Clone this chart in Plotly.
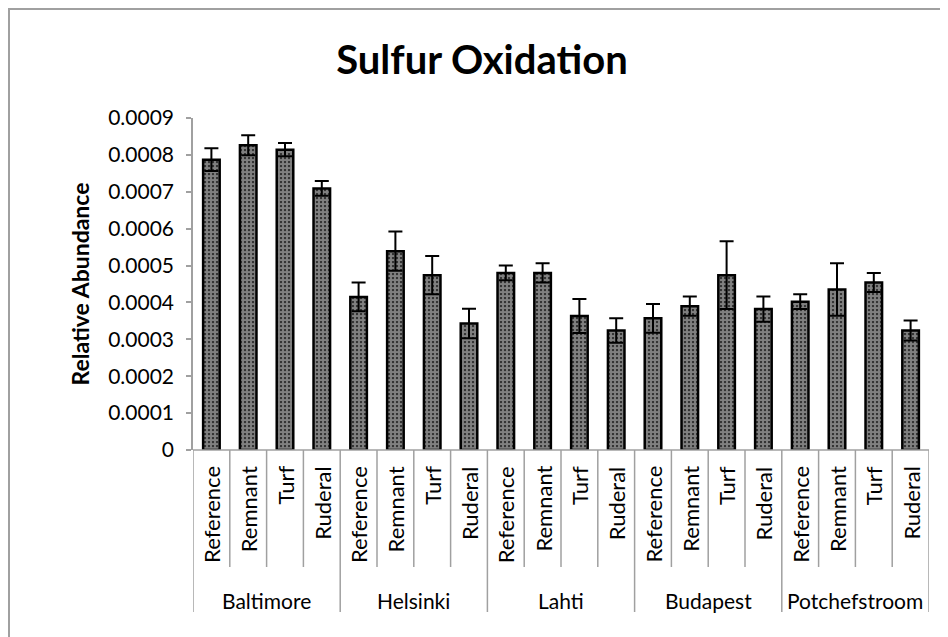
import plotly.graph_objects as go

cities = ["Baltimore", "Helsinki", "Lahti", "Budapest", "Potchefstroom"]
treatments = ["Reference", "Remnant", "Turf", "Ruderal"]

values = {
    "Baltimore": [0.000787, 0.000826, 0.000814, 0.000709],
    "Helsinki": [0.000415, 0.000539, 0.000474, 0.000343],
    "Lahti": [0.000480, 0.000480, 0.000363, 0.000324],
    "Budapest": [0.000357, 0.000390, 0.000474, 0.000382],
    "Potchefstroom": [0.000402, 0.000435, 0.000454, 0.000324],
}
errors = {
    "Baltimore": [0.000031, 0.000027, 0.000018, 0.000020],
    "Helsinki": [0.000039, 0.000053, 0.000052, 0.000040],
    "Lahti": [0.000020, 0.000026, 0.000046, 0.000033],
    "Budapest": [0.000039, 0.000026, 0.000092, 0.000034],
    "Potchefstroom": [0.000020, 0.000071, 0.000026, 0.000027],
}
y_tickvals = [0, 0.0001, 0.0002, 0.0003, 0.0004, 0.0005, 0.0006, 0.0007, 0.0008, 0.0009]
y_ticktext = ["0", "0.0001", "0.0002", "0.0003", "0.0004", "0.0005", "0.0006", "0.0007", "0.0008", "0.0009"]

FONT = "Lato"
GRAY = "#a0a0a0"
W, H = 940, 629
ML, MR, MT, MB = 185, 19, 110, 187
PW, PH = W - ML - MR, H - MT - MB

keys, ys, es = [], [], []
for c in cities:
    for t, v, e in zip(treatments, values[c], errors[c]):
        keys.append(f"{c}|{t}")
        ys.append(v)
        es.append(e)

fig = go.Figure(go.Bar(
    x=keys, y=ys, width=0.45,
    marker=dict(color="black", line=dict(color="black", width=2.5),
                pattern=dict(shape=".", fgcolor="white", bgcolor="black", size=4, solidity=0.8)),
    error_y=dict(type="data", array=es, symmetric=True, color="black", thickness=2, width=7),
))

def py(px):  # pixels below axis -> paper y
    return -px / PH

def pxx(px):  # figure x pixel -> paper x
    return (px - ML) / PW

def pyy(px):  # figure y pixel (from top) -> paper y
    return (H - MB - px) / PH

shapes = []
n = len(keys)
for i in range(n + 1):
    grp = (i % len(treatments) == 0)
    shapes.append(dict(type="line", xref="x", yref="paper", x0=i - 0.5, x1=i - 0.5,
                       y0=0, y1=py(162 if grp else 117), line=dict(color=GRAY, width=1.5)))
shapes.append(dict(type="line", xref="paper", yref="paper", x0=0, x1=1, y0=0, y1=0,
                   line=dict(color=GRAY, width=1.5)))
# outer chart border
shapes.append(dict(type="line", xref="paper", yref="paper", x0=pxx(1), x1=pxx(1),
                   y0=pyy(0), y1=pyy(H + 10), line=dict(color=GRAY, width=2)))
shapes.append(dict(type="line", xref="paper", yref="paper", x0=pxx(0), x1=pxx(W + 10),
                   y0=pyy(1), y1=pyy(1), line=dict(color=GRAY, width=2)))

annotations = []
for c_t in keys:
    t = c_t.split("|")[1]
    annotations.append(dict(x=c_t, y=py(14), xref="x", yref="paper", text=t, textangle=-90,
                            showarrow=False, xanchor="center", yanchor="top",
                            font=dict(family=FONT, size=22, color="black")))
for g, c in enumerate(cities):
    annotations.append(dict(x=g * len(treatments) + (len(treatments) - 1) / 2, y=py(150),
                            xref="x", yref="paper", text=c, showarrow=False,
                            xanchor="center", yanchor="middle",
                            font=dict(family=FONT, size=21, color="black")))

fig.update_layout(
    width=W, height=H, margin=dict(l=ML, r=MR, t=MT, b=MB),
    paper_bgcolor="white", plot_bgcolor="white", showlegend=False,
    title=dict(text="<b>Sulfur Oxidation</b>", x=474 / W, xref="container", xanchor="center",
               y=1 - 52 / H, yref="container", yanchor="middle",
               font=dict(family=FONT, size=40, color="black")),
    xaxis=dict(type="category", range=[-0.5, n - 0.5], showticklabels=False, ticks="",
               showline=False, showgrid=False, zeroline=False, fixedrange=True),
    yaxis=dict(range=[0, 0.0009], tickvals=y_tickvals, ticktext=y_ticktext,
               showline=True, linecolor=GRAY, linewidth=1.5, ticks="outside", ticklen=5,
               tickcolor=GRAY, tickwidth=1.5, showgrid=False, zeroline=False,
               ticklabelstandoff=8,
               tickfont=dict(family=FONT, size=21, color="black"),
               title=dict(text="<b>Relative Abundance</b>", standoff=12,
                          font=dict(family=FONT, size=23, color="black"))),
    shapes=shapes, annotations=annotations,
)
fig.write_html("out.html")
